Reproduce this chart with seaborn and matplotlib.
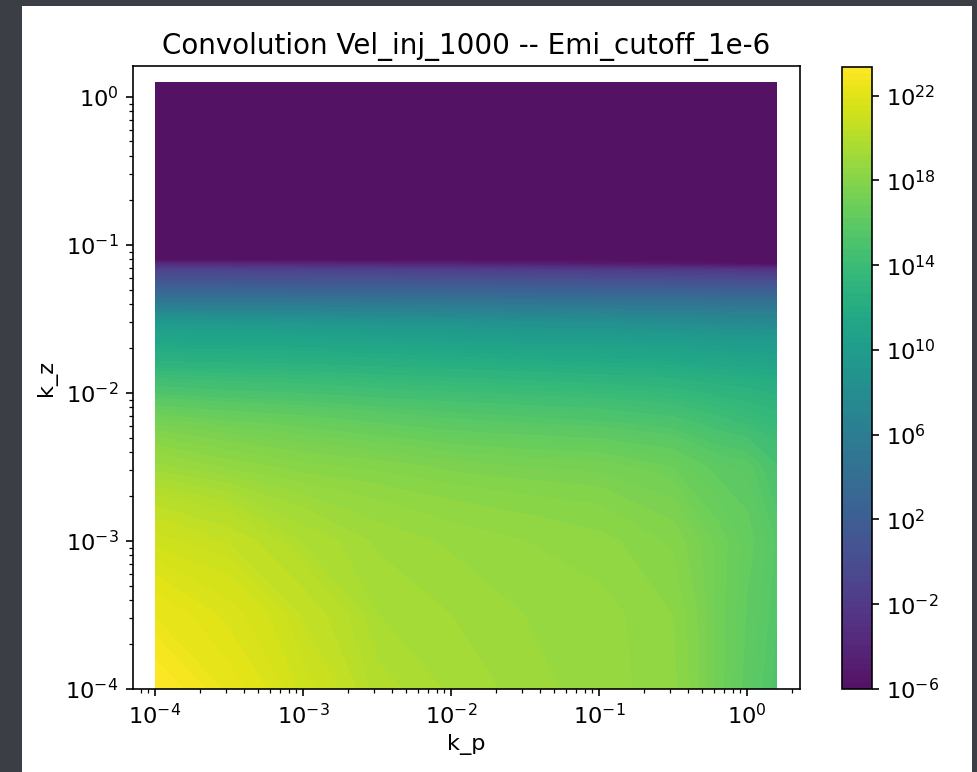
import numpy as np
import matplotlib
matplotlib.use("Agg")
import matplotlib.pyplot as plt
from matplotlib.patches import Rectangle
from matplotlib.colors import ListedColormap
import seaborn as sns

# ---- data (exponents of 10) ----
kp_exp = [-4, -3.5, -3, -2.5, -2, -1.5, -1, -0.5, -0.2, 0, 0.196]
kz_exp = [-4, -3.5, -3, -2.5, -2.2, -2, -1.8, -1.65, -1.55, -1.45, -1.35,
          -1.25, -1.17, -1.13, -1.10, 0.10]
# log10 of the convolution value, one row per kz_exp entry (bottom -> top)
log_conv = [
    [23.3, 22.3, 21.1, 19.9, 19.4, 19.0, 18.7, 18.4, 17.0, 16.0, 15.2],
    [22.4, 21.7, 20.6, 19.5, 19.2, 18.9, 18.7, 18.3, 17.0, 16.2, 15.4],
    [21.1, 20.6, 19.7, 19.1, 18.8, 18.6, 18.4, 17.9, 17.0, 16.4, 15.6],
    [19.0, 18.5, 18.1, 17.9, 17.6, 17.4, 17.3, 16.8, 16.0, 15.8, 14.8],
    [17.3, 16.9, 16.6, 16.2, 15.8, 15.6, 15.4, 15.0, 14.4, 14.0, 13.6],
    [15.2, 14.9, 14.7, 14.4, 14.2, 14.0, 13.8, 13.5, 13.1, 12.9, 12.6],
    [12.8, 12.7, 12.6, 12.4, 12.2, 12.0, 11.8, 11.6, 11.3, 11.2, 11.0],
    [11.2, 11.1, 11.0, 10.8, 10.6, 10.4, 10.3, 10.1, 9.9, 9.8, 9.8],
    [10.2, 10.0, 9.8, 9.5, 9.3, 9.0, 8.8, 8.5, 8.2, 8.1, 8.0],
    [7.3, 7.2, 7.1, 6.9, 6.8, 6.6, 6.5, 6.3, 6.1, 6.0, 6.0],
    [4.0, 4.0, 3.9, 3.9, 3.8, 3.7, 3.6, 3.5, 3.4, 3.3, 3.3],
    [1.0, 1.0, 0.9, 0.9, 0.8, 0.7, 0.6, 0.5, 0.4, 0.3, 0.3],
    [-1.0, -1.1, -1.2, -1.3, -1.5, -1.7, -1.9, -2.1, -2.3, -2.4, -2.5],
    [-3.5, -3.7, -3.9, -4.1, -4.3, -4.6, -4.9, -5.2, -5.5, -5.8, -6.0],
    [-6.0] * 11,
    [-6.0] * 11,
]
cbar_ticks = [-6, -2, 2, 6, 10, 14, 18, 22]
title = "Convolution Vel_inj_1000 -- Emi_cutoff_1e-6"

# ---- style ----
sns.set_theme(style="ticks")
s = 1.48
fs = 16.2
plt.rcParams.update({
    "font.family": ["DejaVu Sans"],
    "font.size": fs,
    "axes.linewidth": 0.8 * s,
    "xtick.major.size": 3.5 * s, "ytick.major.size": 3.5 * s,
    "xtick.minor.size": 2 * s, "ytick.minor.size": 2 * s,
    "xtick.major.width": 0.8 * s, "ytick.major.width": 0.8 * s,
    "xtick.minor.width": 0.6 * s, "ytick.minor.width": 0.6 * s,
    "xtick.labelsize": fs, "ytick.labelsize": fs,
    "axes.labelsize": fs, "axes.titlesize": 20,
    "xtick.color": "black", "ytick.color": "black",
    "axes.edgecolor": "black", "text.color": "black", "axes.labelcolor": "black",
    "xtick.major.pad": 3.5 * s, "ytick.major.pad": 3.5 * s,
})

# viridis, with the slightly lifted dark end seen in the reference
base = sns.color_palette("viridis", 256)
frac = np.linspace(0, 1, 256)[:, None]
cols = np.clip(np.array(base) + (1 - frac) ** 3 * (16 / 255), 0, 1)
cmap = ListedColormap(cols)

W, H = 977, 772
fig = plt.figure(figsize=(W / 100, H / 100), dpi=100)
fig.patch.set_facecolor("#3c3e46")
bg = Rectangle((22 / W, 0), 950 / W, (H - 6) / H, transform=fig.transFigure,
               facecolor="white", edgecolor="none", zorder=-10)
fig.patches.append(bg)

ax = fig.add_axes([133 / W, (H - 689) / H, 667 / W, 623 / H])
cax = fig.add_axes([842 / W, (H - 689) / H, 30 / W, 622 / H])

kp = 10.0 ** np.array(kp_exp)
kz = 10.0 ** np.array(kz_exp)
Z = np.array(log_conv)

levels = np.linspace(-6.0, 23.35, 100)
cs = ax.contourf(kp, kz, Z, levels=levels, cmap=cmap)
ax.set_xscale("log")
ax.set_yscale("log")
ax.set_xlim(10 ** -4.149, 10 ** 0.358)
ax.set_ylim(1e-4, 10 ** 0.209)
ax.set_facecolor("white")
ax.set_xlabel("k_p", labelpad=4)
ax.set_ylabel("k_z", labelpad=6)
ax.set_title(title, pad=6 * s)

cb = fig.colorbar(cs, cax=cax, ticks=cbar_ticks)
cb.ax.set_yticklabels([f"$\\mathdefault{{10^{{{t}}}}}$" for t in cbar_ticks])
cb.outline.set_linewidth(0.8 * s)
cb.ax.minorticks_off()

fig.savefig("out.png", dpi=100, facecolor=fig.get_facecolor())
